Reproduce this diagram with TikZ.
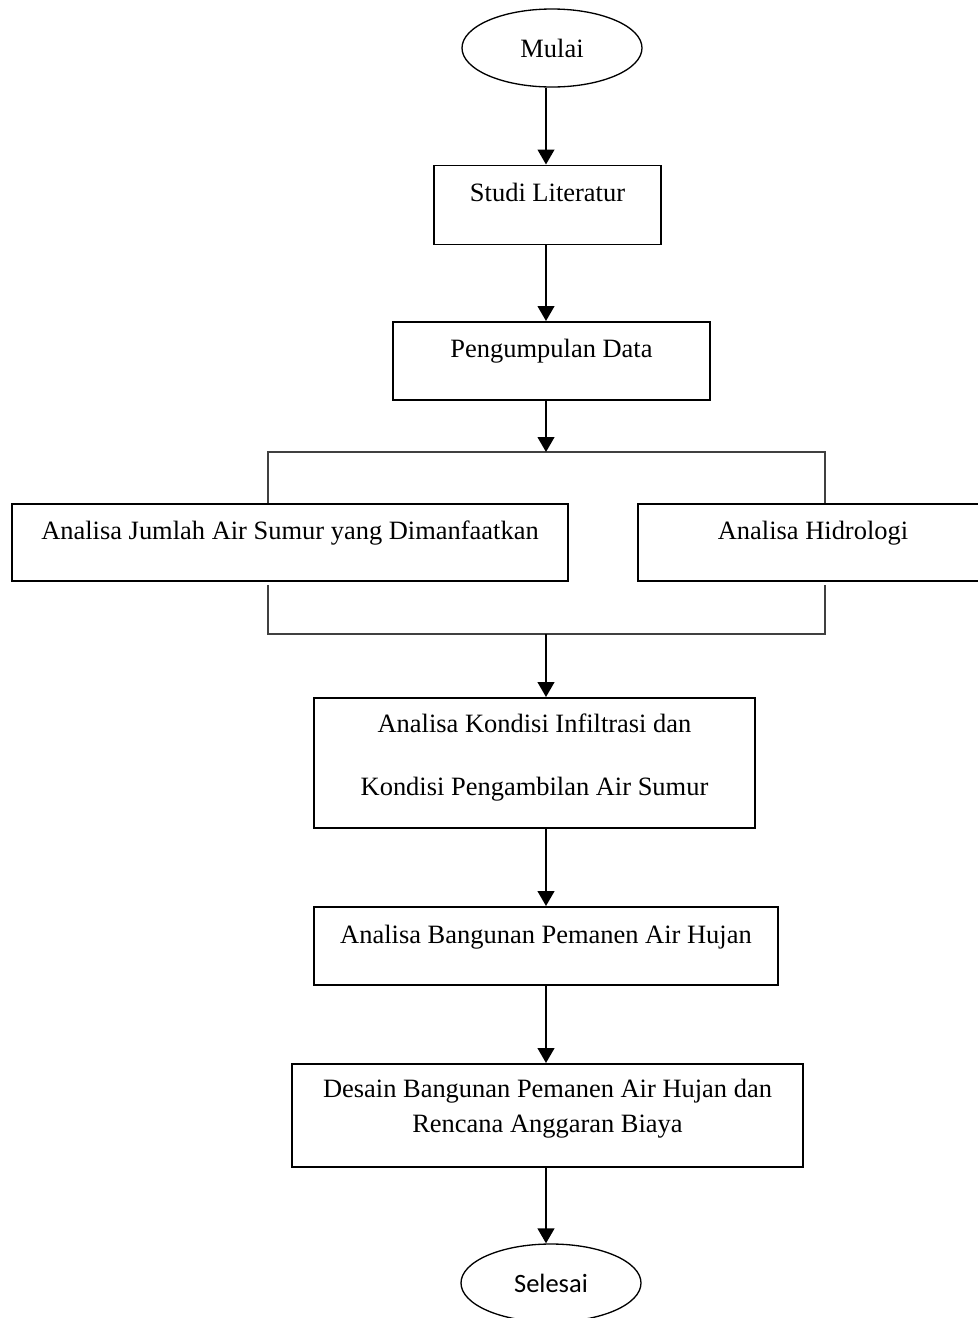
\documentclass[tikz,border=0pt]{standalone}
\usepackage{fontspec}
\setmainfont{Liberation Serif}
\newfontfamily\selesaifont{Carlito}
\usepackage{tikz}
\usetikzlibrary{arrows.meta,calc,positioning,shapes.geometric}
\newcommand\pxu{0.4535pt}
\tikzset{
  terminal/.style={ellipse,draw,line width=0.6pt,inner sep=0pt,
    minimum width=180*\pxu,minimum height=78*\pxu,
    font=\fontsize{12}{14}\selectfont},
  stepbox/.style={draw,line width=0.85pt,inner xsep=0pt,inner ysep=0pt,
    anchor=north,align=center,font=\fontsize{12}{14}\selectfont},
  flow/.style={-{Triangle[length=6.8pt,width=7.6pt]},line width=0.9pt},
  bracket/.style={draw=black!75,line width=0.5pt}
}

\begin{document}
\begin{tikzpicture}[x=\pxu,y=-\pxu]
  \useasboundingbox (0,0) rectangle (978,1318);
  \coordinate (axis) at (546,0);

  \node[terminal] (mulai) at (552,48) {Mulai};
  \node[stepbox,minimum width=227*\pxu,text height=36*\pxu,text depth=43*\pxu]
    (studi) at (547.5,164.5) {Studi Literatur};
  \node[stepbox,minimum width=317*\pxu,text height=36*\pxu,text depth=42*\pxu]
    (pengumpulan) at (551.5,321) {Pengumpulan Data};

  % two analyses side by side
  \coordinate (splitL) at (268,452);
  \coordinate (splitR) at (825,452);
  \coordinate (joinL) at (268,634);
  \coordinate (joinR) at (825,634);
  \node[stepbox,minimum width=556*\pxu,text height=36*\pxu,text depth=41*\pxu]
    (jumlah) at (290,503) {Analisa Jumlah Air Sumur yang Dimanfaatkan};
  \node[stepbox,minimum width=350*\pxu,text height=36*\pxu,text depth=41*\pxu]
    (hidrologi) at (813,503) {Analisa Hidrologi};

  \node[stepbox,minimum width=441*\pxu,text height=98*\pxu,text depth=32*\pxu,
    font=\fontsize{12}{28.6}\selectfont]
    (kondisi) at (534.5,697) {Analisa Kondisi Infiltrasi dan\\
    Kondisi Pengambilan Air Sumur};
  \node[stepbox,minimum width=464*\pxu,text height=37*\pxu,text depth=41*\pxu]
    (bangunan) at (546,906) {Analisa Bangunan Pemanen Air Hujan};
  \node[stepbox,minimum width=511*\pxu,text height=69*\pxu,text depth=34*\pxu,
    font=\fontsize{12}{15.9}\selectfont]
    (desain) at (547.5,1063) {Desain Bangunan Pemanen Air Hujan dan\\
    Rencana Anggaran Biaya};
  \node[terminal,font=\selesaifont\fontsize{12}{14}\selectfont]
    (selesai) at (551,1283) {Selesai};

  \draw[bracket] (jumlah.north -| splitL) -- (splitL) -- (splitR)
    -- (hidrologi.north -| splitR);
  \draw[bracket] ($(jumlah.south -| joinL)+(0,3)$) -- (joinL) -- (joinR)
    -- ($(hidrologi.south -| joinR)+(0,3)$);

  \draw[flow] (axis |- mulai.south) -- (axis |- studi.north);
  \draw[flow] (axis |- studi.south) -- (axis |- pengumpulan.north);
  \draw[flow] (axis |- pengumpulan.south) -- (axis |- splitL);
  \draw[flow] (axis |- joinL) -- (axis |- kondisi.north);
  \draw[flow] (axis |- kondisi.south) -- (axis |- bangunan.north);
  \draw[flow] (axis |- bangunan.south) -- (axis |- desain.north);
  \draw[flow] (axis |- desain.south) -- (axis |- selesai.north);
\end{tikzpicture}
\end{document}
